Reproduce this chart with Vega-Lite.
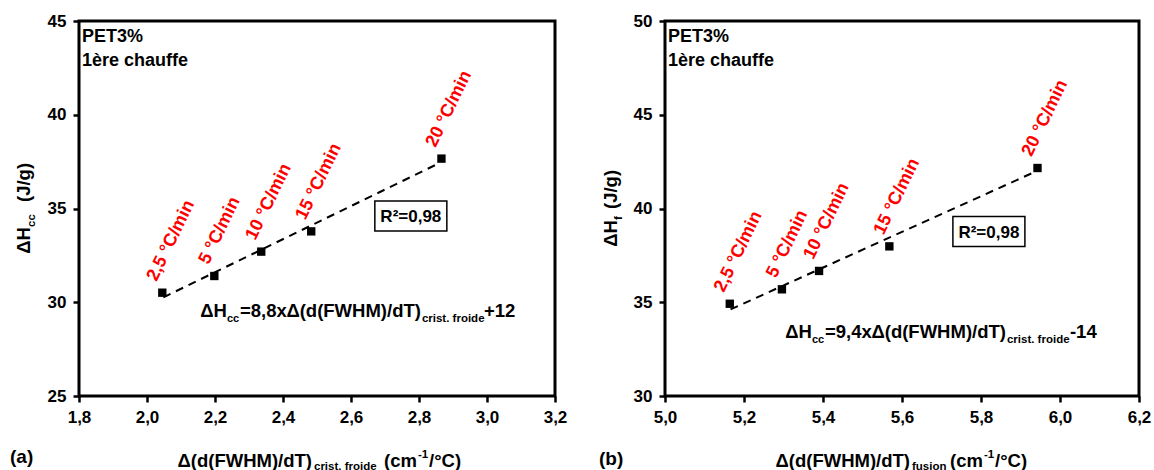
{
  "$schema": "https://vega.github.io/schema/vega-lite/v6.json",
  "padding": {"left": 8, "top": 10, "right": 5, "bottom": 0},
  "bounds": "flush",
  "spacing": 110,
  "background": "white",
  "hconcat": [
    {
      "width": 476,
      "height": 375,
      "encoding": {
        "x": {"field": "x", "type": "quantitative", "scale": {"domain": [1.8, 3.2], "nice": false, "zero": false},
              "axis": {"title": null, "values": [1.8, 2.0, 2.2, 2.4, 2.6, 2.8, 3.0, 3.2], "labelExpr": "replace(format(datum.value, '.1f'), '.', ',')"}},
        "y": {"field": "y", "type": "quantitative", "scale": {"domain": [25, 45], "nice": false, "zero": false},
              "axis": {"title": null, "values": [25, 30, 35, 40, 45]}}
      },
      "layer": [
        {"data": {"values": [{"x": 2.048, "y": 30.26}, {"x": 2.862, "y": 37.44}]},
         "mark": {"type": "line", "color": "black", "strokeWidth": 2, "strokeDash": [8, 6]}},
        {"data": {"name": "pts_a"},
         "mark": {"type": "point", "shape": "square", "filled": true, "color": "black", "size": 70, "opacity": 1}},
        {"data": {"name": "pts_a"},
         "mark": {"type": "text", "angle": 296, "align": "left", "baseline": "alphabetic", "dx": 7, "dy": -10, "color": "#ff0000", "font": "Liberation Sans", "fontSize": 18, "fontWeight": "bold"},
         "encoding": {"text": {"field": "label"}}},
        {"data": {"values": [{"x": 2.776, "y": 34.6}]},
         "mark": {"type": "point", "shape": "M-1,-0.417L1,-0.417L1,0.417L-1,0.417Z", "size": 5184, "filled": false, "stroke": "black", "strokeWidth": 1.5, "opacity": 1}},
        {"data": {"values": [{"x": 2.776, "y": 34.6, "t": "R²=0,98"}]},
         "mark": {"type": "text", "align": "center", "baseline": "middle", "dy": 1, "font": "Liberation Sans", "fontSize": 17, "fontWeight": "bold", "color": "black"},
         "encoding": {"text": {"field": "t"}}},
        {"data": {"values": [{"x": 1.8, "y": 45, "t": "PET3%\n1ère chauffe"}]},
         "mark": {"type": "text", "align": "left", "baseline": "alphabetic", "dx": 3, "dy": 21, "lineBreak": "\n", "lineHeight": 24, "font": "Liberation Sans", "fontSize": 18, "fontWeight": "bold", "color": "black"},
         "encoding": {"text": {"field": "t"}}},
        {"data": {"values": [{"x": 2.235, "y": 29.21, "t": "ΔH"}]},
         "mark": {"type": "text", "align": "right", "baseline": "alphabetic", "dx": 0, "dy": 0, "font": "Liberation Sans", "fontSize": 18.5, "fontWeight": "bold", "color": "black"},
         "encoding": {"text": {"field": "t"}}},
        {"data": {"values": [{"x": 2.235, "y": 29.21, "t": "cc"}]},
         "mark": {"type": "text", "align": "left", "baseline": "alphabetic", "dx": 0, "dy": 5, "font": "Liberation Sans", "fontSize": 11, "fontWeight": "bold", "color": "black"},
         "encoding": {"text": {"field": "t"}}},
        {"data": {"values": [{"x": 2.235, "y": 29.21, "t": "=8,8x"}]},
         "mark": {"type": "text", "align": "left", "baseline": "alphabetic", "dx": 13, "dy": 0, "font": "Liberation Sans", "fontSize": 18.5, "fontWeight": "bold", "color": "black"},
         "encoding": {"text": {"field": "t"}}},
        {"data": {"values": [{"x": 2.235, "y": 29.21, "t": "Δ(d(FWHM)/dT)"}]},
         "mark": {"type": "text", "align": "right", "baseline": "alphabetic", "dx": 194, "dy": 0, "font": "Liberation Sans", "fontSize": 18.5, "fontWeight": "bold", "color": "black"},
         "encoding": {"text": {"field": "t"}}},
        {"data": {"values": [{"x": 2.235, "y": 29.21, "t": "crist. froide"}]},
         "mark": {"type": "text", "align": "left", "baseline": "alphabetic", "dx": 195, "dy": 5, "font": "Liberation Sans", "fontSize": 11.5, "fontWeight": "bold", "color": "black"},
         "encoding": {"text": {"field": "t"}}},
        {"data": {"values": [{"x": 2.235, "y": 29.21, "t": "+12"}]},
         "mark": {"type": "text", "align": "left", "baseline": "alphabetic", "dx": 257, "dy": 0, "font": "Liberation Sans", "fontSize": 18.5, "fontWeight": "bold", "color": "black"},
         "encoding": {"text": {"field": "t"}}},
        {"data": {"values": [{"x": 1.8, "y": 35, "t": "ΔH"}]},
         "mark": {"type": "text", "angle": 270, "align": "right", "baseline": "alphabetic", "dx": -18.5, "dy": -49, "font": "Liberation Sans", "fontSize": 18.5, "fontWeight": "bold", "color": "black"},
         "encoding": {"text": {"field": "t"}}},
        {"data": {"values": [{"x": 1.8, "y": 35, "t": "cc"}]},
         "mark": {"type": "text", "angle": 270, "align": "left", "baseline": "alphabetic", "dx": -18.5, "dy": -44, "font": "Liberation Sans", "fontSize": 11.5, "fontWeight": "bold", "color": "black"},
         "encoding": {"text": {"field": "t"}}},
        {"data": {"values": [{"x": 1.8, "y": 35, "t": "(J/g)"}]},
         "mark": {"type": "text", "angle": 270, "align": "left", "baseline": "alphabetic", "dx": 6.5, "dy": -49, "font": "Liberation Sans", "fontSize": 18.5, "fontWeight": "bold", "color": "black"},
         "encoding": {"text": {"field": "t"}}},
        {"data": {"values": [{"x": 1.8, "y": 25, "t": "Δ(d(FWHM)/dT)"}]},
         "mark": {"type": "text", "align": "right", "baseline": "alphabetic", "dx": 233, "dy": 71, "font": "Liberation Sans", "fontSize": 18.5, "fontWeight": "bold", "color": "black"},
         "encoding": {"text": {"field": "t"}}},
        {"data": {"values": [{"x": 1.8, "y": 25, "t": "crist. froide"}]},
         "mark": {"type": "text", "align": "left", "baseline": "alphabetic", "dx": 235, "dy": 74, "font": "Liberation Sans", "fontSize": 11.5, "fontWeight": "bold", "color": "black"},
         "encoding": {"text": {"field": "t"}}},
        {"data": {"values": [{"x": 1.8, "y": 25, "t": "(cm"}]},
         "mark": {"type": "text", "align": "left", "baseline": "alphabetic", "dx": 305, "dy": 71, "font": "Liberation Sans", "fontSize": 18.5, "fontWeight": "bold", "color": "black"},
         "encoding": {"text": {"field": "t"}}},
        {"data": {"values": [{"x": 1.8, "y": 25, "t": "-1"}]},
         "mark": {"type": "text", "align": "left", "baseline": "alphabetic", "dx": 339, "dy": 62, "font": "Liberation Sans", "fontSize": 11.5, "fontWeight": "bold", "color": "black"},
         "encoding": {"text": {"field": "t"}}},
        {"data": {"values": [{"x": 1.8, "y": 25, "t": "/°C)"}]},
         "mark": {"type": "text", "align": "left", "baseline": "alphabetic", "dx": 350, "dy": 71, "font": "Liberation Sans", "fontSize": 18.5, "fontWeight": "bold", "color": "black"},
         "encoding": {"text": {"field": "t"}}},
        {"data": {"values": [{"x": 1.8, "y": 25, "t": "(a)"}]},
         "mark": {"type": "text", "align": "left", "baseline": "alphabetic", "dx": -69, "dy": 67, "font": "Liberation Sans", "fontSize": 19, "fontWeight": "bold", "color": "black"},
         "encoding": {"text": {"field": "t"}}}
      ]
    },
    {
      "width": 474,
      "height": 375,
      "encoding": {
        "x": {"field": "x", "type": "quantitative", "scale": {"domain": [5.0, 6.2], "nice": false, "zero": false},
              "axis": {"title": null, "values": [5.0, 5.2, 5.4, 5.6, 5.8, 6.0, 6.2], "labelExpr": "replace(format(datum.value, '.1f'), '.', ',')"}},
        "y": {"field": "y", "type": "quantitative", "scale": {"domain": [30, 50], "nice": false, "zero": false},
              "axis": {"title": null, "values": [30, 35, 40, 45, 50]}}
      },
      "layer": [
        {"data": {"values": [{"x": 5.166, "y": 34.62}, {"x": 5.936, "y": 41.95}]},
         "mark": {"type": "line", "color": "black", "strokeWidth": 2, "strokeDash": [8, 6]}},
        {"data": {"name": "pts_b"},
         "mark": {"type": "point", "shape": "square", "filled": true, "color": "black", "size": 70, "opacity": 1}},
        {"data": {"name": "pts_b"},
         "mark": {"type": "text", "angle": 296, "align": "left", "baseline": "alphabetic", "dx": 7, "dy": -10, "color": "#ff0000", "font": "Liberation Sans", "fontSize": 18, "fontWeight": "bold"},
         "encoding": {"text": {"field": "label"}}},
        {"data": {"values": [{"x": 5.82, "y": 38.77}]},
         "mark": {"type": "point", "shape": "M-1,-0.417L1,-0.417L1,0.417L-1,0.417Z", "size": 5184, "filled": false, "stroke": "black", "strokeWidth": 1.5, "opacity": 1}},
        {"data": {"values": [{"x": 5.82, "y": 38.77, "t": "R²=0,98"}]},
         "mark": {"type": "text", "align": "center", "baseline": "middle", "dy": 1, "font": "Liberation Sans", "fontSize": 17, "fontWeight": "bold", "color": "black"},
         "encoding": {"text": {"field": "t"}}},
        {"data": {"values": [{"x": 5.0, "y": 50, "t": "PET3%\n1ère chauffe"}]},
         "mark": {"type": "text", "align": "left", "baseline": "alphabetic", "dx": 3, "dy": 21, "lineBreak": "\n", "lineHeight": 24, "font": "Liberation Sans", "fontSize": 18, "fontWeight": "bold", "color": "black"},
         "encoding": {"text": {"field": "t"}}},
        {"data": {"values": [{"x": 5.372, "y": 33.09, "t": "ΔH"}]},
         "mark": {"type": "text", "align": "right", "baseline": "alphabetic", "dx": 0, "dy": 0, "font": "Liberation Sans", "fontSize": 18.5, "fontWeight": "bold", "color": "black"},
         "encoding": {"text": {"field": "t"}}},
        {"data": {"values": [{"x": 5.372, "y": 33.09, "t": "cc"}]},
         "mark": {"type": "text", "align": "left", "baseline": "alphabetic", "dx": 0, "dy": 5, "font": "Liberation Sans", "fontSize": 11, "fontWeight": "bold", "color": "black"},
         "encoding": {"text": {"field": "t"}}},
        {"data": {"values": [{"x": 5.372, "y": 33.09, "t": "=9,4x"}]},
         "mark": {"type": "text", "align": "left", "baseline": "alphabetic", "dx": 13, "dy": 0, "font": "Liberation Sans", "fontSize": 18.5, "fontWeight": "bold", "color": "black"},
         "encoding": {"text": {"field": "t"}}},
        {"data": {"values": [{"x": 5.372, "y": 33.09, "t": "Δ(d(FWHM)/dT)"}]},
         "mark": {"type": "text", "align": "right", "baseline": "alphabetic", "dx": 194, "dy": 0, "font": "Liberation Sans", "fontSize": 18.5, "fontWeight": "bold", "color": "black"},
         "encoding": {"text": {"field": "t"}}},
        {"data": {"values": [{"x": 5.372, "y": 33.09, "t": "crist. froide"}]},
         "mark": {"type": "text", "align": "left", "baseline": "alphabetic", "dx": 195, "dy": 5, "font": "Liberation Sans", "fontSize": 11.5, "fontWeight": "bold", "color": "black"},
         "encoding": {"text": {"field": "t"}}},
        {"data": {"values": [{"x": 5.372, "y": 33.09, "t": "-14"}]},
         "mark": {"type": "text", "align": "left", "baseline": "alphabetic", "dx": 258, "dy": 0, "font": "Liberation Sans", "fontSize": 18.5, "fontWeight": "bold", "color": "black"},
         "encoding": {"text": {"field": "t"}}},
        {"data": {"values": [{"x": 5.0, "y": 40, "t": "ΔH"}]},
         "mark": {"type": "text", "angle": 270, "align": "right", "baseline": "alphabetic", "dx": -11.5, "dy": -48, "font": "Liberation Sans", "fontSize": 18.5, "fontWeight": "bold", "color": "black"},
         "encoding": {"text": {"field": "t"}}},
        {"data": {"values": [{"x": 5.0, "y": 40, "t": "f"}]},
         "mark": {"type": "text", "angle": 270, "align": "left", "baseline": "alphabetic", "dx": -11.5, "dy": -43, "font": "Liberation Sans", "fontSize": 11.5, "fontWeight": "bold", "color": "black"},
         "encoding": {"text": {"field": "t"}}},
        {"data": {"values": [{"x": 5.0, "y": 40, "t": "(J/g)"}]},
         "mark": {"type": "text", "angle": 270, "align": "left", "baseline": "alphabetic", "dx": -0.5, "dy": -48, "font": "Liberation Sans", "fontSize": 18.5, "fontWeight": "bold", "color": "black"},
         "encoding": {"text": {"field": "t"}}},
        {"data": {"values": [{"x": 5.0, "y": 30, "t": "Δ(d(FWHM)/dT)"}]},
         "mark": {"type": "text", "align": "right", "baseline": "alphabetic", "dx": 245, "dy": 71, "font": "Liberation Sans", "fontSize": 18.5, "fontWeight": "bold", "color": "black"},
         "encoding": {"text": {"field": "t"}}},
        {"data": {"values": [{"x": 5.0, "y": 30, "t": "fusion"}]},
         "mark": {"type": "text", "align": "left", "baseline": "alphabetic", "dx": 247, "dy": 74, "font": "Liberation Sans", "fontSize": 11.5, "fontWeight": "bold", "color": "black"},
         "encoding": {"text": {"field": "t"}}},
        {"data": {"values": [{"x": 5.0, "y": 30, "t": "(cm"}]},
         "mark": {"type": "text", "align": "left", "baseline": "alphabetic", "dx": 285, "dy": 71, "font": "Liberation Sans", "fontSize": 18.5, "fontWeight": "bold", "color": "black"},
         "encoding": {"text": {"field": "t"}}},
        {"data": {"values": [{"x": 5.0, "y": 30, "t": "-1"}]},
         "mark": {"type": "text", "align": "left", "baseline": "alphabetic", "dx": 319, "dy": 62, "font": "Liberation Sans", "fontSize": 11.5, "fontWeight": "bold", "color": "black"},
         "encoding": {"text": {"field": "t"}}},
        {"data": {"values": [{"x": 5.0, "y": 30, "t": "/°C)"}]},
         "mark": {"type": "text", "align": "left", "baseline": "alphabetic", "dx": 330, "dy": 71, "font": "Liberation Sans", "fontSize": 18.5, "fontWeight": "bold", "color": "black"},
         "encoding": {"text": {"field": "t"}}},
        {"data": {"values": [{"x": 5.0, "y": 30, "t": "(b)"}]},
         "mark": {"type": "text", "align": "left", "baseline": "alphabetic", "dx": -66, "dy": 69, "font": "Liberation Sans", "fontSize": 19, "fontWeight": "bold", "color": "black"},
         "encoding": {"text": {"field": "t"}}}
      ]
    }
  ],
  "datasets": {
    "pts_a": [
      {"x": 2.045, "y": 30.51, "label": "2,5 °C/min"},
      {"x": 2.198, "y": 31.4, "label": "5 °C/min"},
      {"x": 2.336, "y": 32.7, "label": "10 °C/min"},
      {"x": 2.483, "y": 33.78, "label": "15 °C/min"},
      {"x": 2.866, "y": 37.66, "label": "20 °C/min"}
    ],
    "pts_b": [
      {"x": 5.164, "y": 34.92, "label": "2,5 °C/min"},
      {"x": 5.296, "y": 35.69, "label": "5 °C/min"},
      {"x": 5.39, "y": 36.67, "label": "10 °C/min"},
      {"x": 5.568, "y": 37.98, "label": "15 °C/min"},
      {"x": 5.943, "y": 42.16, "label": "20 °C/min"}
    ]
  },
  "config": {
    "view": {"stroke": "black", "strokeWidth": 3},
    "axis": {
      "grid": false,
      "domain": false,
      "ticks": true,
      "tickColor": "black",
      "tickWidth": 2.5,
      "tickSize": 6,
      "labelFont": "Liberation Sans",
      "labelFontSize": 17,
      "labelFontWeight": "bold",
      "labelColor": "black",
      "labelPadding": 7,
      "labelFlush": false,
      "labelOverlap": false
    }
  }
}
